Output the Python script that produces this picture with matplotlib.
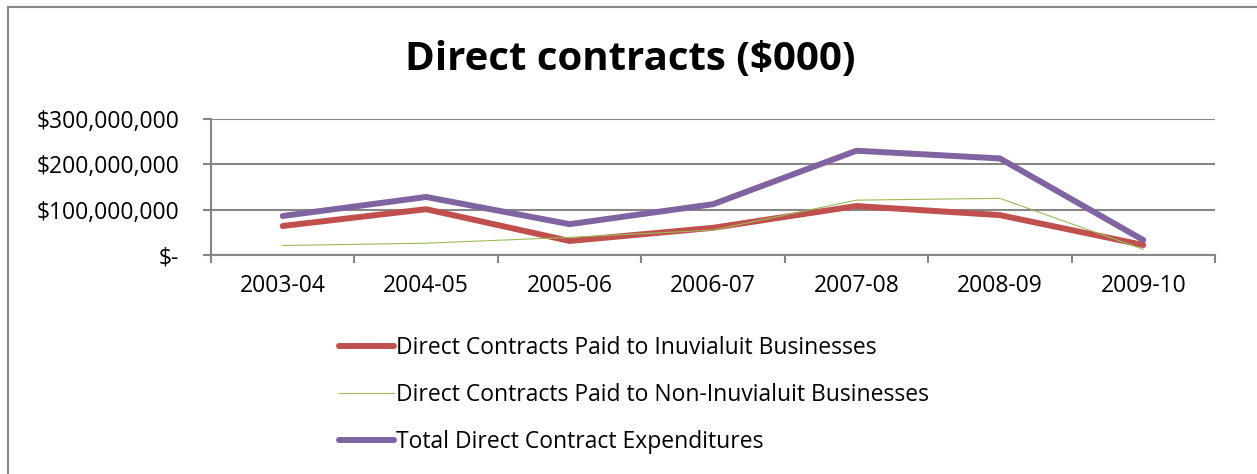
import matplotlib
matplotlib.use("Agg")
import matplotlib.pyplot as plt
from matplotlib.patches import Rectangle
import numpy as np

years = ["2003-04", "2004-05", "2005-06", "2006-07", "2007-08", "2008-09", "2009-10"]
inuvialuit = [64e6, 101e6, 31e6, 60e6, 108e6, 88e6, 22e6]
non_inuvialuit = [21e6, 26e6, 39e6, 55e6, 121e6, 125e6, 12.5e6]
total = [86e6, 128e6, 68e6, 112e6, 230e6, 213e6, 33e6]
yticks = [0, 100e6, 200e6, 300e6]
ytick_labels = ["$-", "$100,000,000", "$200,000,000", "$300,000,000"]
labels = ["Direct Contracts Paid to Inuvialuit Businesses",
          "Direct Contracts Paid to Non-Inuvialuit Businesses",
          "Total Direct Contract Expenditures"]

W, H = 1257, 474
font = "Open Sans"
fsize = 16.5
grid_c = "#868686"

fig = plt.figure(figsize=(W / 100, H / 100), dpi=100)
# outer chart border
fig.patches.append(Rectangle((8 / W, -0.1), 1.2, 1 - 7 / H + 0.1, transform=fig.transFigure,
                             fill=False, edgecolor=grid_c, linewidth=1.5))

ax = fig.add_axes([211 / W, 1 - 255 / H, (1215 - 211) / W, (255 - 119) / H])
x = np.arange(len(years))
ax.plot(x, inuvialuit, color="#C0504D", lw=4.3, solid_capstyle="round", label=labels[0], zorder=3)
ax.plot(x, non_inuvialuit, color="#9BBB59", lw=0.8, label=labels[1], zorder=4)
ax.plot(x, total, color="#8064A2", lw=4.3, solid_capstyle="round", label=labels[2], zorder=3)

ax.set_xlim(-0.5, len(years) - 0.5)
ax.set_ylim(0, 300e6)
ax.set_yticks(yticks)
ax.set_yticklabels(ytick_labels, fontsize=fsize, family=font)
ax.set_xticks(x)
ax.set_xticklabels(years, fontsize=fsize, family=font)
ax.set_xticks(np.arange(len(years) + 1) - 0.5, minor=True)
ax.tick_params(axis="x", which="major", length=0, pad=14)
ax.tick_params(axis="x", which="minor", length=6, width=1.5, color=grid_c)
ax.tick_params(axis="y", length=6, width=1.5, color=grid_c, pad=17)
ax.grid(axis="y", color=grid_c, lw=1.5)
ax.set_axisbelow(True)
for s in ["top", "right"]:
    ax.spines[s].set_visible(False)
for s in ["left", "bottom"]:
    ax.spines[s].set_color(grid_c)
    ax.spines[s].set_linewidth(1.5)

fig.text(630 / W, 1 - 60 / H, "Direct contracts ($000)", ha="center", va="center",
         fontsize=29, fontweight="bold", family=font)

fig.legend(loc="upper left", bbox_to_anchor=(330 / W, 1 - 327 / H), frameon=False,
           prop={"family": font, "size": fsize}, handlelength=2.4, handletextpad=0.1,
           labelspacing=1.0, borderaxespad=0)

fig.savefig("out.png", dpi=100)
